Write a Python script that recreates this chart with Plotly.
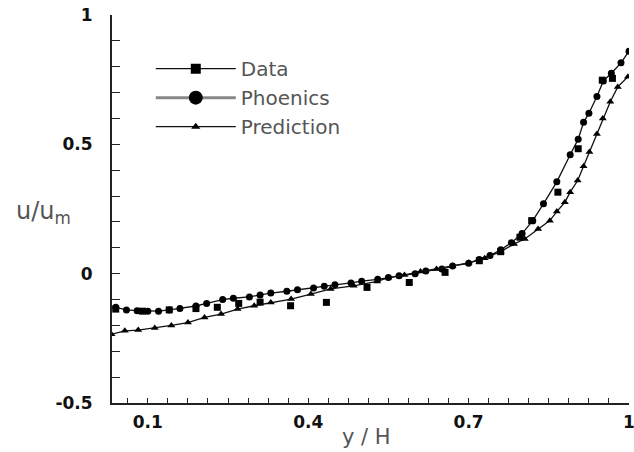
import plotly.graph_objects as go

# Phoenics (circles) - upper curve
phx = [0.04, 0.06, 0.08, 0.10, 0.12, 0.14, 0.16, 0.19, 0.21, 0.24, 0.26, 0.29, 0.31, 0.33,
       0.36, 0.38, 0.41, 0.43, 0.45, 0.48, 0.50, 0.53, 0.55, 0.57, 0.60, 0.62, 0.65, 0.67,
       0.70, 0.72, 0.74, 0.76, 0.78, 0.80, 0.82, 0.84, 0.865, 0.89, 0.905, 0.915, 0.925,
       0.94, 0.952, 0.967, 0.985, 1.0]
phy = [-0.13, -0.14, -0.143, -0.145, -0.145, -0.14, -0.135, -0.125, -0.115, -0.10, -0.095,
       -0.09, -0.082, -0.075, -0.068, -0.062, -0.055, -0.049, -0.043, -0.036, -0.029, -0.022,
       -0.015, -0.008, 0.0, 0.01, 0.018, 0.03, 0.04, 0.055, 0.07, 0.092, 0.12, 0.155, 0.205,
       0.27, 0.355, 0.46, 0.52, 0.585, 0.62, 0.685, 0.745, 0.775, 0.815, 0.86]

# Prediction (triangles) - lower-left / right curve
prx = [0.032, 0.057, 0.082, 0.113, 0.144, 0.175, 0.206, 0.237, 0.268, 0.299, 0.33, 0.368,
       0.405, 0.442, 0.485, 0.529, 0.55, 0.58, 0.61, 0.64, 0.67, 0.70, 0.73, 0.76, 0.785,
       0.805, 0.83, 0.852, 0.865, 0.88, 0.89, 0.904, 0.915, 0.926, 0.94, 0.951, 0.965,
       0.979, 0.998]
pry = [-0.234, -0.221, -0.218, -0.21, -0.2, -0.189, -0.169, -0.156, -0.137, -0.124, -0.111,
       -0.098, -0.079, -0.059, -0.047, -0.03, -0.015, -0.005, 0.008, 0.018, 0.03, 0.042,
       0.06, 0.085, 0.115, 0.134, 0.173, 0.205, 0.24, 0.276, 0.315, 0.36, 0.415, 0.47,
       0.54, 0.6, 0.665, 0.722, 0.761]

# Data (squares)
dx = [0.04, 0.09, 0.14, 0.19, 0.23, 0.27, 0.31, 0.367, 0.434, 0.51, 0.589, 0.656, 0.72,
      0.76, 0.796, 0.818, 0.867, 0.905, 0.95, 0.969]
dy = [-0.137, -0.145, -0.14, -0.135, -0.13, -0.115, -0.11, -0.124, -0.111, -0.053, -0.034,
      0.005, 0.05, 0.085, 0.141, 0.205, 0.315, 0.483, 0.748, 0.755]

x_ticks = [0.1, 0.4, 0.7, 1]
x_ticklabels = ["0.1", "0.4", "0.7", "1"]
y_ticks = [-0.5, 0, 0.5, 1]
y_ticklabels = ["-0.5", "0", "0.5", "1"]

fig = go.Figure()
fig.add_trace(go.Scatter(x=phx, y=phy, mode="lines+markers", showlegend=False,
                         line=dict(color="#111", width=1.3),
                         marker=dict(symbol="circle", size=7, color="#000")))
fig.add_trace(go.Scatter(x=prx, y=pry, mode="lines+markers", showlegend=False,
                         line=dict(color="#111", width=1.3),
                         marker=dict(symbol="triangle-up", size=7, color="#000")))
fig.add_trace(go.Scatter(x=dx, y=dy, mode="markers", showlegend=False,
                         marker=dict(symbol="square", size=7, color="#000")))

# legend entries
fig.add_trace(go.Scatter(x=[None], y=[None], mode="lines+markers", name="Data",
                         line=dict(color="#111", width=1.3),
                         marker=dict(symbol="square", size=10, color="#000")))
fig.add_trace(go.Scatter(x=[None], y=[None], mode="lines+markers", name="Phoenics",
                         line=dict(color="#888", width=3),
                         marker=dict(symbol="circle", size=14, color="#000")))
fig.add_trace(go.Scatter(x=[None], y=[None], mode="lines+markers", name="Prediction",
                         line=dict(color="#111", width=1.3),
                         marker=dict(symbol="triangle-up", size=8, color="#000")))

tickfont = dict(size=17, family="DejaVu Sans, Arial", weight="bold", color="#111")

fig.update_layout(
    width=634, height=452, autosize=False,
    margin=dict(l=112, r=5, t=15, b=49),
    paper_bgcolor="white", plot_bgcolor="white",
    font=dict(family="DejaVu Sans, Arial, sans-serif", color="#000"),
    legend=dict(x=0.075, y=0.912, xanchor="left", yanchor="top",
                bgcolor="rgba(0,0,0,0)", itemwidth=80,
                font=dict(size=20, color="#555"), tracegroupgap=0),
    xaxis=dict(range=[0.033, 1.0], showgrid=False, zeroline=False, automargin=False,
               showline=True, linecolor="#222", linewidth=2,
               tickmode="array", tickvals=x_ticks, ticktext=x_ticklabels,
               ticks="inside", ticklen=5, tickcolor="#222",
               tickfont=tickfont, ticklabelstandoff=3, ticklabeloverflow="allow",
               minor=dict(tick0=0.1, dtick=0.0375, ticks="inside", ticklen=5,
                          tickcolor="#222", showgrid=False)),
    yaxis=dict(range=[-0.5, 1], showgrid=False, zeroline=False, automargin=False,
               showline=True, linecolor="#222", linewidth=2,
               tickmode="array", tickvals=y_ticks, ticktext=y_ticklabels,
               ticks="inside", ticklen=8, tickcolor="#222",
               tickfont=tickfont, ticklabelstandoff=14, ticklabeloverflow="allow",
               minor=dict(tick0=0, dtick=0.1, ticks="inside", ticklen=8,
                          tickcolor="#222", showgrid=False)),
    annotations=[
        dict(text="u/u<sub>m</sub>", xref="paper", yref="paper", x=-0.19, y=0.49,
             xanchor="left", yanchor="middle", showarrow=False,
             font=dict(size=24, color="#555")),
        dict(text="y / H", xref="paper", yref="paper", x=0.492, y=-0.088,
             xanchor="center", yanchor="middle", showarrow=False,
             font=dict(size=21, color="#555")),
    ],
)

fig.write_html(
    "out.html",
    config={"responsive": False, "displayModeBar": False},
    post_script="document.body.style.margin='0';document.body.style.overflow='hidden';",
)
